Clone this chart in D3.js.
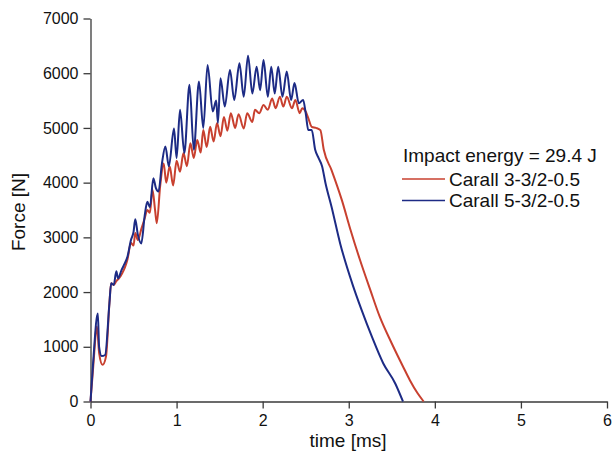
<!DOCTYPE html>
<html>
<head>
<meta charset="utf-8">
<script src="https://cdn.jsdelivr.net/npm/d3@7"></script>
<style>
  body { margin: 0; background: #fff; }
  svg text { font-family: "Liberation Sans", Arial, sans-serif; fill: #111; }
  .axis path, .axis line { stroke: #3a3a3a; stroke-width: 1.3; }
</style>
</head>
<body>
<svg id="chart" width="614" height="463"></svg>
<script>
// tick values
var xTicks = [0, 1, 2, 3, 4, 5, 6];
var yTicks = [0, 1000, 2000, 3000, 4000, 5000, 6000, 7000];

// series: [time ms, force N]
var carall3 = [
  [0, 0], [0.03, 600], [0.075, 1370], [0.10, 890], [0.14, 670], [0.18, 820],
  [0.22, 1800], [0.24, 2160], [0.27, 2130], [0.30, 2200], [0.33, 2250], [0.37, 2350],
  [0.40, 2450], [0.43, 2600], [0.47, 2900], [0.50, 2850], [0.52, 3080], [0.55, 2950],
  [0.59, 3150], [0.63, 3350], [0.66, 3500], [0.69, 3450], [0.72, 3870], [0.75, 3500],
  [0.77, 3260], [0.81, 3950], [0.85, 4350], [0.88, 4000], [0.92, 4300], [0.96, 3950],
  [1.00, 4400], [1.04, 4200], [1.08, 4540], [1.12, 4300], [1.16, 4720], [1.20, 4450],
  [1.24, 4780], [1.28, 4550], [1.31, 4960], [1.35, 4650], [1.39, 5020], [1.43, 4750],
  [1.47, 5090], [1.51, 4850], [1.55, 5200], [1.59, 4950], [1.63, 5270], [1.68, 5000],
  [1.72, 5250], [1.78, 4990], [1.82, 5270], [1.88, 5110], [1.91, 5330], [1.96, 5270],
  [2.01, 5420], [2.06, 5330], [2.11, 5540], [2.15, 5360], [2.20, 5570], [2.24, 5390],
  [2.28, 5570], [2.34, 5360], [2.38, 5510], [2.43, 5270], [2.46, 5360], [2.50, 5300],
  [2.53, 5180], [2.57, 5020], [2.62, 5000], [2.67, 4960], [2.71, 4600], [2.80, 4230],
  [2.92, 3680], [3.02, 3140], [3.13, 2590], [3.25, 2040], [3.36, 1550], [3.50, 1060],
  [3.63, 640], [3.71, 390], [3.80, 150], [3.87, 0]
];

var carall5 = [
  [0, 0], [0.03, 700], [0.085, 1610], [0.10, 1000], [0.13, 830], [0.17, 850],
  [0.22, 1800], [0.24, 2160], [0.27, 2130], [0.30, 2380], [0.32, 2250], [0.36, 2400],
  [0.39, 2500], [0.43, 2650], [0.47, 2950], [0.50, 3100], [0.52, 3330], [0.55, 3050],
  [0.59, 2890], [0.63, 3400], [0.66, 3650], [0.69, 3550], [0.73, 4080], [0.76, 3900],
  [0.79, 3840], [0.83, 4350], [0.87, 4660], [0.91, 4300], [0.97, 4990], [1.00, 4450],
  [1.04, 5330], [1.09, 4540], [1.15, 5790], [1.20, 4600], [1.26, 5850], [1.31, 5000],
  [1.36, 6150], [1.42, 5300], [1.46, 5500], [1.48, 5090], [1.51, 5910], [1.56, 5390],
  [1.62, 6060], [1.67, 5510], [1.73, 6180], [1.78, 5570], [1.83, 6320], [1.88, 5630],
  [1.93, 6120], [1.97, 5690], [2.01, 6240], [2.06, 5570], [2.10, 6120], [2.14, 5630],
  [2.18, 6120], [2.23, 5570], [2.28, 6030], [2.33, 5510], [2.37, 5820], [2.42, 5450],
  [2.47, 5510], [2.50, 5270], [2.53, 4960], [2.57, 4960], [2.61, 4600], [2.65, 4450],
  [2.69, 4300], [2.73, 3990], [2.80, 3560], [2.90, 2890], [3.04, 2160], [3.15, 1670],
  [3.27, 1180], [3.40, 700], [3.54, 330], [3.63, 0]
];

var legendTitle = "Impact energy = 29.4 J";
var seriesNames = ["Carall 3-3/2-0.5", "Carall 5-3/2-0.5"];
var seriesColors = ["#c8402f", "#1d2b85"];

var svg = d3.select("#chart");

var x = d3.scaleLinear().domain([0, 6]).range([90.5, 607]);
var y = d3.scaleLinear().domain([0, 7000]).range([401.5, 18.5]);

// axes
svg.append("g")
    .attr("class", "axis")
    .attr("transform", "translate(0,401.5)")
    .call(d3.axisBottom(x).tickValues(xTicks).tickSize(7).tickSizeOuter(0).tickFormat(d3.format("d")))
    .call(g => g.selectAll("text").attr("font-size", 16).attr("y", 9).attr("dy", "0.95em"));

svg.append("g")
    .attr("class", "axis")
    .attr("transform", "translate(90.5,0)")
    .call(d3.axisLeft(y).tickValues(yTicks).tickSize(7).tickSizeOuter(0).tickFormat(d3.format("d")))
    .call(g => g.selectAll("text").attr("font-size", 16).attr("x", -12));

svg.selectAll(".axis text").style("fill", "#111");

// axis titles
svg.append("text")
    .attr("x", 348)
    .attr("y", 447)
    .attr("text-anchor", "middle")
    .attr("font-size", 19)
    .text("time [ms]");

svg.append("text")
    .attr("transform", "translate(25,212) rotate(-90)")
    .attr("text-anchor", "middle")
    .attr("font-size", 19)
    .text("Force [N]");

// lines
var line = d3.line()
    .x(d => x(d[0]))
    .y(d => y(d[1]))
    .curve(d3.curveMonotoneX);

[carall3, carall5].forEach(function (s, i) {
    svg.append("path")
        .datum(s)
        .attr("fill", "none")
        .attr("stroke", seriesColors[i])
        .attr("stroke-width", 2)
        .attr("stroke-linejoin", "round")
        .attr("d", line);
});

// legend
var lg = svg.append("g").attr("transform", "translate(402,0)");
lg.append("text")
    .attr("x", 1)
    .attr("y", 162)
    .attr("font-size", 19)
    .text(legendTitle);

seriesNames.forEach(function (name, i) {
    var yy = 179 + i * 21.5;
    lg.append("line")
        .attr("x1", 0).attr("x2", 43)
        .attr("y1", yy).attr("y2", yy)
        .attr("stroke", seriesColors[i])
        .attr("stroke-width", 1.6);
    lg.append("text")
        .attr("x", 47)
        .attr("y", yy + 6.5)
        .attr("font-size", 19)
        .text(name);
});
</script>
</body>
</html>
